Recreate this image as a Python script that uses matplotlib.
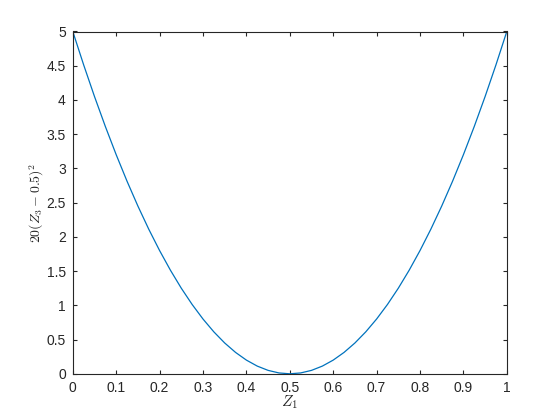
import matplotlib
matplotlib.use("Agg")
import matplotlib.pyplot as plt

z1 = [0.0, 0.025, 0.05, 0.075, 0.1, 0.125, 0.15, 0.175, 0.2, 0.225, 0.25,
      0.275, 0.3, 0.325, 0.35, 0.375, 0.4, 0.425, 0.45, 0.475, 0.5,
      0.525, 0.55, 0.575, 0.6, 0.625, 0.65, 0.675, 0.7, 0.725, 0.75,
      0.775, 0.8, 0.825, 0.85, 0.875, 0.9, 0.925, 0.95, 0.975, 1.0]
f = [5.0, 4.5125, 4.05, 3.6125, 3.2, 2.8125, 2.45, 2.1125, 1.8, 1.5125, 1.25,
     1.0125, 0.8, 0.6125, 0.45, 0.3125, 0.2, 0.1125, 0.05, 0.0125, 0.0,
     0.0125, 0.05, 0.1125, 0.2, 0.3125, 0.45, 0.6125, 0.8, 1.0125, 1.25,
     1.5125, 1.8, 2.1125, 2.45, 2.8125, 3.2, 3.6125, 4.05, 4.5125, 5.0]
xticks = [0, 0.1, 0.2, 0.3, 0.4, 0.5, 0.6, 0.7, 0.8, 0.9, 1]
xticklabels = ["0", "0.1", "0.2", "0.3", "0.4", "0.5", "0.6", "0.7", "0.8", "0.9", "1"]
yticks = [0, 0.5, 1, 1.5, 2, 2.5, 3, 3.5, 4, 4.5, 5]
yticklabels = ["0", "0.5", "1", "1.5", "2", "2.5", "3", "3.5", "4", "4.5", "5"]

plt.rcParams['font.family'] = ['Liberation Sans', 'DejaVu Sans']
plt.rcParams['mathtext.fontset'] = 'cm'

fig = plt.figure(figsize=(5.6, 4.2), dpi=100)
ax = fig.add_axes([0.13, 0.11, 0.775, 0.815])
ax.plot(z1, f, color='#0072BD', lw=0.9)
ax.set_xlim(0, 1)
ax.set_ylim(0, 5)
ax.set_xticks(xticks)
ax.set_xticklabels(xticklabels)
ax.set_yticks(yticks)
ax.set_yticklabels(yticklabels)
dark = '#262626'
for s in ax.spines.values():
    s.set_color(dark)
    s.set_linewidth(0.8)
ax.tick_params(direction='in', top=True, right=True, length=3, width=0.8,
               colors=dark, labelsize=10, pad=5)
ax.set_xlabel(r'$Z_1$', fontsize=11, color=dark)
ax.set_ylabel(r'$20(Z_3-0.5)^2$', fontsize=10, color=dark)
ax.xaxis.set_label_coords(0.5, -0.058)
ax.yaxis.set_label_coords(-0.062, 0.5)
fig.savefig('out.png', dpi=100, facecolor='white')
